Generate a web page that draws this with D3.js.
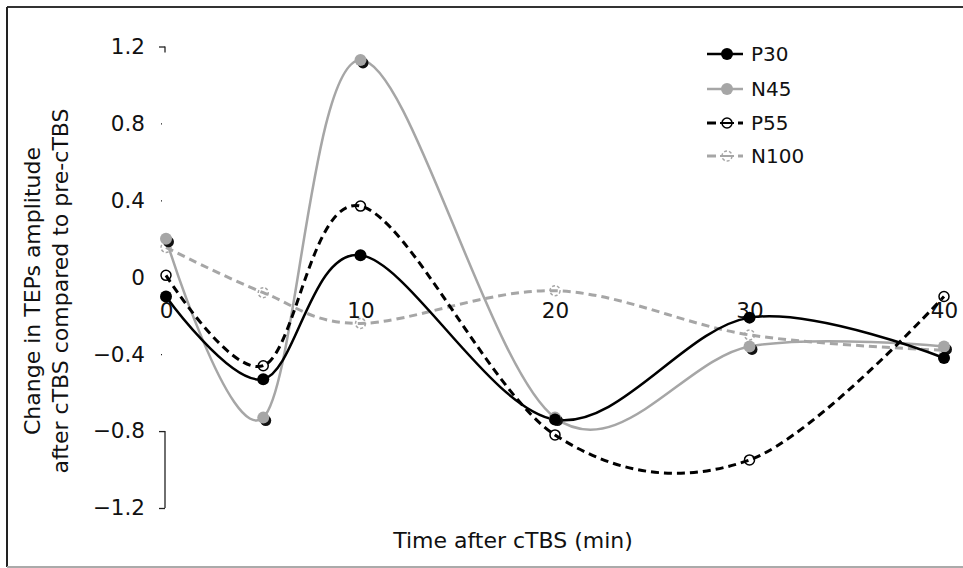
<!DOCTYPE html>
<html><head><meta charset="utf-8">
<script src="https://cdn.jsdelivr.net/npm/d3@7/dist/d3.min.js"></script>
<style>body{margin:0;background:#fff}svg{display:block}text{font-family:"DejaVu Sans",Verdana,sans-serif;fill:#111}</style>
</head><body><svg id="c" width="963" height="568"></svg>
<script>
const times = [0, 5, 10, 20, 30, 40];
const xTicks = [0, 10, 20, 30, 40];
const yTicks = [1.2, 0.8, 0.4, 0, -0.4, -0.8, -1.2];
const seriesNames = ["P30", "N45", "P55", "N100"];
const p30 = [-0.10, -0.53, 0.115, -0.74, -0.21, -0.42];
const n45 = [0.20, -0.73, 1.13, -0.73, -0.36, -0.36];
const p55 = [0.01, -0.46, 0.37, -0.82, -0.95, -0.10];
const n100 = [0.155, -0.08, -0.24, -0.07, -0.30, -0.38];

const svg = d3.select("#c");
const x = d3.scaleLinear().domain([0, 40]).range([166, 944]);
const y = d3.scaleLinear().domain([-1.2, 1.2]).range([508, 46.5]);
const gray = "#a6a6a6";
const FS = 21.5;

// frame
svg.append("line").attr("x1",7).attr("x2",963).attr("y1",7).attr("y2",7).attr("stroke","#333").attr("stroke-width",2);
svg.append("line").attr("x1",7).attr("x2",7).attr("y1",7).attr("y2",567).attr("stroke","#222").attr("stroke-width",2);
svg.append("line").attr("x1",7).attr("x2",963).attr("y1",567).attr("y2",567).attr("stroke","#aaa").attr("stroke-width",2);

// y axis ticks & labels
const yAxis = d3.axisLeft(y).tickValues(yTicks).tickSize(4).tickFormat(d => d === 0 ? "0" : d3.format(".1f")(d));
const gy = svg.append("g").attr("transform","translate(165,0)").call(yAxis);
gy.select(".domain").remove();
gy.selectAll(".tick line").attr("stroke","#222").attr("stroke-width",1.3)
  .attr("x1", d => (d === 1.2 || d === -0.8 || d === -1.2) ? -6 : -4)
  .attr("x2", d => (d === 1.2 || d === -0.8 || d === -1.2) ? 0 : -3);
gy.selectAll(".tick text").attr("x",-20).attr("font-size",FS).style("font-family","DejaVu Sans").attr("fill","#111");
svg.append("line").attr("x1",165).attr("x2",165).attr("y1",y(1.2)).attr("y2",y(1.2)+6).attr("stroke","#222").attr("stroke-width",1.3);
svg.append("line").attr("x1",165).attr("x2",165).attr("y1",y(-0.8)).attr("y2",y(-1.2)).attr("stroke","#222").attr("stroke-width",1.3);

// x tick labels
const xAxis = d3.axisBottom(x).tickValues(xTicks).tickSize(0).tickFormat(d3.format("d"));
const gx = svg.append("g").attr("transform",`translate(0,${y(0)})`).call(xAxis);
gx.select(".domain").remove();
gx.selectAll(".tick text").attr("y",41).attr("dy",null).attr("font-size",FS).style("font-family","DejaVu Sans").attr("fill","#111");

// axis titles
svg.append("text").attr("x",513).attr("y",548).attr("text-anchor","middle").attr("font-size",22).text("Time after cTBS (min)");
const yt = svg.append("text").attr("transform","translate(40,291) rotate(-90)").attr("text-anchor","middle").attr("font-size",22);
yt.append("tspan").attr("x",0).attr("dy",0).text("Change in TEPs amplitude");
yt.append("tspan").attr("x",0).attr("dy",28).text("after cTBS compared to pre-cTBS");

const curve = d3.curveCardinal.tension(0);
const line = d3.line().x((d,i) => x(times[i])).y(d => y(d)).curve(curve);

const specs = [
  {name:"N100", data:n100, color:gray, dash:"8,5", filled:false, width:3},
  {name:"N45", data:n45, color:gray, dash:null, filled:true, width:2.5},
  {name:"P55", data:p55, color:"#000", dash:"8,5", filled:false, width:3},
  {name:"P30", data:p30, color:"#000", dash:null, filled:true, width:2.5}
];

specs.forEach(s => {
  svg.append("path").datum(s.data).attr("d", line).attr("fill","none")
    .attr("stroke", s.color).attr("stroke-width", s.width)
    .attr("stroke-dasharray", s.dash);
});
specs.forEach(s => {
  const g = svg.append("g");
  if (s.filled && s.name === "N45") {
    g.selectAll(".sh").data(s.data).join("circle")
      .attr("cx",(d,i)=>x(times[i])+2.5).attr("cy",d=>y(d)+3).attr("r",5.5).attr("fill","#111");
  }
  g.selectAll(".m").data(s.data).join("circle")
    .attr("cx",(d,i)=>x(times[i])).attr("cy",d=>y(d))
    .attr("r", s.filled ? 6 : 5)
    .attr("fill", s.filled ? s.color : "none")
    .attr("stroke", s.color).attr("stroke-width", s.filled ? 0 : 1.5)
    .attr("stroke-dasharray", s.name==="N100" ? "3,2" : null);
});

// legend
const order = ["P30","N45","P55","N100"];
const legY = [54, 89, 123, 156];
order.forEach((n, k) => {
  const s = specs.find(t => t.name === n);
  const g = svg.append("g").attr("transform",`translate(0,${legY[k]})`);
  if (s.dash) {
    g.append("line").attr("x1",707).attr("x2",716).attr("y1",0).attr("y2",0).attr("stroke",s.color).attr("stroke-width",3);
    g.append("line").attr("x1",720).attr("x2",734).attr("y1",0).attr("y2",0).attr("stroke",s.color).attr("stroke-width",2);
    g.append("line").attr("x1",738).attr("x2",743).attr("y1",0).attr("y2",0).attr("stroke",s.color).attr("stroke-width",3);
  } else {
    g.append("line").attr("x1",707).attr("x2",743).attr("y1",0).attr("y2",0).attr("stroke",s.color).attr("stroke-width",s.width);
  }
  g.append("circle").attr("cx",727).attr("cy",0).attr("r", s.filled?6:5)
    .attr("fill", s.filled ? s.color : "none").attr("stroke", s.color).attr("stroke-width", s.filled?0:1.5)
    .attr("stroke-dasharray", n==="N100" ? "3,2" : null);
  g.append("text").attr("x",751).attr("y",0).attr("dy","0.36em").attr("font-size",20).text(n);
});
</script></body></html>
